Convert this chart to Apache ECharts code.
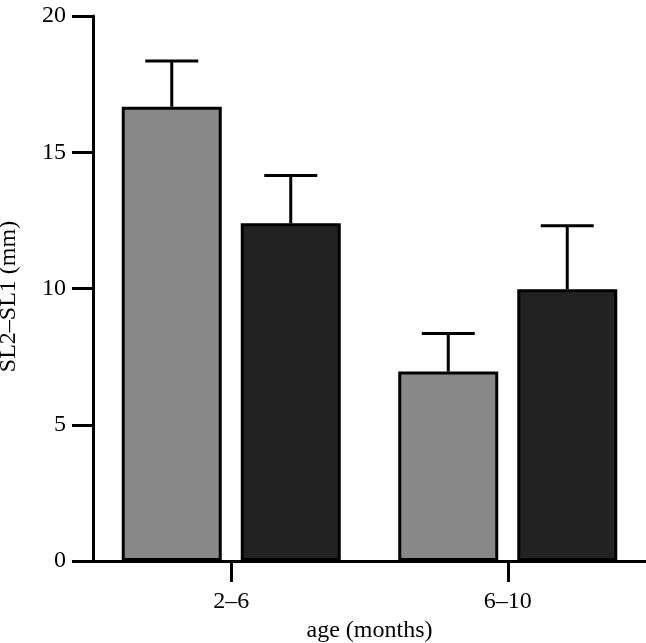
<!DOCTYPE html>
<html>
<head>
<meta charset="utf-8">
<script src="https://cdn.jsdelivr.net/npm/echarts@6/dist/echarts.min.js"></script>
<style>
html,body{margin:0;padding:0;background:#fff;}
#chart{width:646px;height:643px;}
</style>
</head>
<body>
<div id="chart"></div>
<script>
var categories = ['2–6', '6–10'];
var meanGray = [16.67, 6.95];
var semGray = [1.68, 1.4];
var meanDark = [12.39, 9.97];
var semDark = [1.76, 2.33];
var yTicks = [0, 5, 10, 15, 20];

var FONT = 'Liberation Serif';
var chart = echarts.init(document.getElementById('chart'), null, {renderer: 'canvas'});

function errData(means, sems) {
  return means.map(function (m, i) { return [i, m, m + sems[i]]; });
}

function errRender(offset) {
  return function (params, api) {
    var i = api.value(0);
    var lo = api.coord([i, api.value(1)]);
    var hi = api.coord([i, api.value(2)]);
    var x = lo[0] + offset;
    var half = 26.5;
    var style = {stroke: '#000', lineWidth: 3, fill: null};
    return {
      type: 'group',
      children: [
        {type: 'line', shape: {x1: x, y1: lo[1], x2: x, y2: hi[1]}, style: style},
        {type: 'line', shape: {x1: x - half, y1: hi[1], x2: x + half, y2: hi[1]}, style: style}
      ]
    };
  };
}

var option = {
  animation: false,
  backgroundColor: '#fff',
  grid: {left: 93, right: 0, top: 16, bottom: 82, containLabel: false, outerBoundsMode: 'none'},
  xAxis: {
    type: 'category',
    data: categories,
    name: 'age (months)',
    nameLocation: 'middle',
    nameGap: 52,
    nameTextStyle: {fontFamily: FONT, fontSize: 24, color: '#000'},
    axisLine: {show: true, lineStyle: {color: '#000', width: 3}},
    axisTick: {show: true, alignWithLabel: true, length: 21, lineStyle: {color: '#000', width: 3}},
    axisLabel: {fontFamily: FONT, fontSize: 24, color: '#000', margin: 29},
    splitLine: {show: false}
  },
  yAxis: {
    type: 'value',
    min: yTicks[0],
    max: yTicks[yTicks.length - 1],
    interval: 5,
    name: 'SL2–SL1 (mm)',
    nameLocation: 'middle',
    nameGap: 72,
    nameTextStyle: {fontFamily: FONT, fontSize: 24, color: '#000', padding: [0, 16, 0, 0]},
    axisLine: {show: true, lineStyle: {color: '#000', width: 3}},
    axisTick: {show: true, length: 21, lineStyle: {color: '#000', width: 3}},
    axisLabel: {fontFamily: FONT, fontSize: 24, color: '#000', margin: 27},
    splitLine: {show: false}
  },
  series: [
    {
      type: 'bar',
      data: meanGray,
      barWidth: 100,
      barGap: '19%',
      itemStyle: {color: '#888888', borderColor: '#000', borderWidth: 3},
      z: 2
    },
    {
      type: 'bar',
      data: meanDark,
      barWidth: 100,
      barGap: '19%',
      itemStyle: {color: '#222222', borderColor: '#000', borderWidth: 3},
      z: 2
    },
    {
      type: 'custom',
      renderItem: errRender(-59.5),
      data: errData(meanGray, semGray),
      encode: {x: 0, y: [1, 2]},
      z: 1
    },
    {
      type: 'custom',
      renderItem: errRender(59.5),
      data: errData(meanDark, semDark),
      encode: {x: 0, y: [1, 2]},
      z: 1
    }
  ]
};
chart.setOption(option);
</script>
</body>
</html>
